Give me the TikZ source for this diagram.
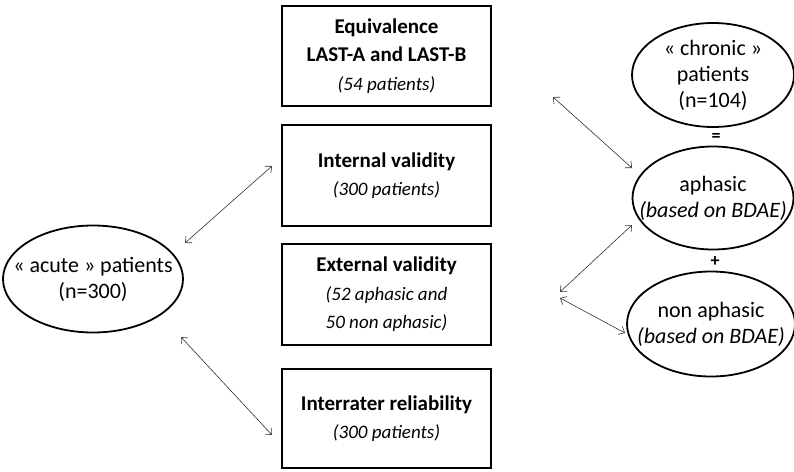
\documentclass[tikz,border=0pt]{standalone}
\usepackage{fontspec}
\setmainfont{Carlito}
\usetikzlibrary{shapes.geometric,arrows.meta}
\newcommand{\itl}{\fontsize{19}{28.5}\selectfont\itshape}
\begin{document}
\begin{tikzpicture}[x=1pt,y=-1pt,
  box/.style={draw,line width=2pt,minimum width=209pt,minimum height=100pt,inner sep=0pt,align=center,font=\fontsize{21}{28.5}\selectfont},
  oval/.style={draw,ellipse,line width=1.8pt,inner xsep=-40pt,inner ysep=-30pt,align=center,font=\fontsize{22}{26}\selectfont},
  dbl/.style={{Straight Barb[length=5pt,width=9pt]}-{Straight Barb[length=5pt,width=9pt]},line width=0.6pt,draw=black!80},
  sym/.style={font=\fontsize{18}{18}\selectfont\bfseries}]
\useasboundingbox (0,0) rectangle (794,471);
\node[box] (equiv) at (386.5,56) {\textbf{Equivalence}\\\textbf{LAST-A and LAST-B}\\{\itl (54 patients)}};
\node[box,minimum height=101pt] (internal) at (386.5,175.5) {\textbf{Internal validity}\\{\itl (300 patients)}};
\node[box,minimum height=101pt] (external) at (386.5,294.5) {\textbf{External validity}\\{\itl (52 aphasic and}\\{\itl 50 non aphasic)}};
\node[box,minimum height=99pt] (inter) at (386.5,418.5) {\textbf{Interrater reliability}\\{\itl (300 patients)}};
\node[oval,minimum width=180pt,minimum height=107pt] (acute) at (93,279) {« acute » patients\\(n=300)};
\node[oval,minimum width=162pt,minimum height=104pt] (chronic) at (713,75) {\raisebox{0pt}{}« chronic »\\patients\\(n=104)};
\node[oval,minimum width=161pt,minimum height=103pt] (aphasic) at (713,198) {aphasic\\\textit{(based on BDAE)}};
\node[oval,minimum width=168pt,minimum height=105pt] (nonaph) at (711,324) {non aphasic\\\textit{(based on BDAE)}};
\node[sym] (eq) at (716,137) {=};
\node[sym] (plus) at (715,262) {+};
\coordinate (a1) at (185,243);
\coordinate (a2) at (272,166);
\coordinate (a3) at (181,337);
\coordinate (a4) at (272,435);
\coordinate (b1) at (553,97);
\coordinate (b2) at (632,168);
\coordinate (c1) at (560,292);
\coordinate (c2) at (632,225);
\coordinate (d1) at (560,298);
\coordinate (d2) at (625,333);
\draw[dbl] (a1) -- (a2);
\draw[dbl] (a3) -- (a4);
\draw[dbl] (b1) -- (b2);
\draw[dbl] (c1) -- (c2);
\draw[dbl] (d1) -- (d2);
\end{tikzpicture}
\end{document}
